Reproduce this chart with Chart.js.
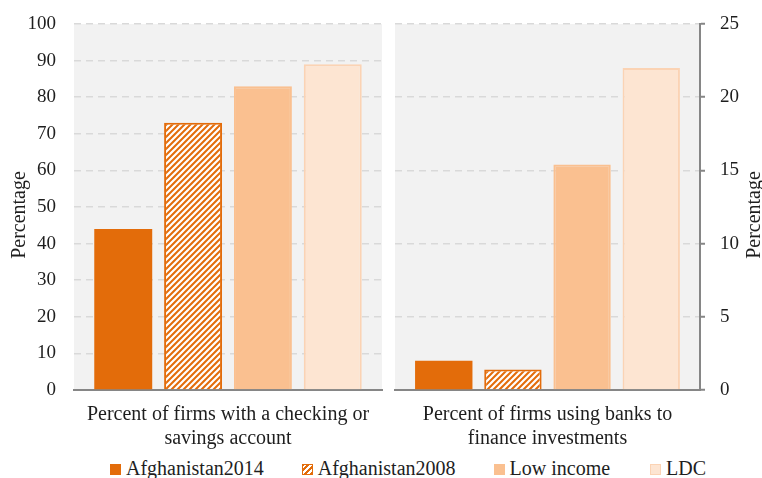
<!DOCTYPE html>
<html>
<head>
<meta charset="utf-8">
<script src="https://cdn.jsdelivr.net/npm/chart.js@4/dist/chart.umd.min.js"></script>
<style>
  html, body { margin: 0; padding: 0; background: #fff; }
  #wrap { position: relative; width: 762px; height: 478px; overflow: hidden; font-family: 'Liberation Serif', 'Times New Roman', serif; }
  #left { position: absolute; left: 0; top: 0; }
  #right { position: absolute; left: 388px; top: 0; }
  #legend { position: absolute; left: 110px; top: 458px; display: flex; white-space: nowrap; font-size: 20px; line-height: 20px; color: #1e1e1e; }
  .item { margin-right: 38px; }
  .item:nth-child(3) { margin-right: 40px; }
  .sw { display: inline-block; width: 11px; height: 11px; margin-right: 5px; vertical-align: baseline; box-sizing: border-box; }
</style>
</head>
<body>
<div id="wrap">
  <canvas id="left" width="388" height="452"></canvas>
  <canvas id="right" width="374" height="452"></canvas>
  <div id="legend"></div>
</div>
<script>
// Panel categories (one per panel) and series
const panelLabels = [
  ['Percent of firms with a checking or', 'savings account'],
  ['Percent of firms using banks to', 'finance investments']
];
const seriesNames = ['Afghanistan2014', 'Afghanistan2008', 'Low income', 'LDC'];
const afghanistan2014 = [44, 2.0];
const afghanistan2008 = [73, 1.4];
const lowIncome = [83, 15.4];
const ldc = [89, 22.0];
const leftAxisMax = 100, leftAxisStep = 10;
const rightAxisMax = 25, rightAxisStep = 5;
const axisTitle = 'Percentage';

const seriesValues = [afghanistan2014, afghanistan2008, lowIncome, ldc];

const ORANGE = '#e36c0a';
const LIGHT = '#fac090';
const PALE = '#fde5d2';
const PALE_EDGE = '#fbd3b4';
const FONT = "'Liberation Serif', 'Times New Roman', serif";
const TEXT = '#1e1e1e';
const AXIS = '#868686';
const GRID = '#d9d9d9';

// Diagonal white-on-orange hatch
function makeHatch() {
  const t = document.createElement('canvas');
  t.width = 6; t.height = 6;
  const c = t.getContext('2d');
  c.fillStyle = ORANGE;
  c.fillRect(0, 0, 6, 6);
  c.strokeStyle = '#ffffff';
  c.lineWidth = 2.2;
  c.beginPath();
  c.moveTo(-3, 3); c.lineTo(3, -3);
  c.moveTo(0, 6); c.lineTo(6, 0);
  c.moveTo(3, 9); c.lineTo(9, 3);
  c.stroke();
  return c.createPattern(t, 'repeat');
}
const hatch = makeHatch();

const fills = [ORANGE, hatch, LIGHT, PALE];
const edges = [ORANGE, ORANGE, LIGHT, PALE_EDGE];

// Gray panel background behind the plot area
const panelBg = {
  id: 'panelBg',
  beforeDraw(chart) {
    const a = chart.chartArea, ctx = chart.ctx;
    ctx.save();
    ctx.fillStyle = '#f2f2f2';
    ctx.fillRect(a.left, a.top, a.right - a.left, a.bottom - a.top);
    ctx.restore();
  }
};

// Vertical axis title, reading bottom to top
function sideTitle(x) {
  return {
    id: 'sideTitle',
    afterDraw(chart) {
      const ctx = chart.ctx;
      ctx.save();
      ctx.translate(x, 215);
      ctx.rotate(-Math.PI / 2);
      ctx.font = '20px ' + FONT;
      ctx.fillStyle = TEXT;
      ctx.textAlign = 'center';
      ctx.textBaseline = 'alphabetic';
      ctx.fillText(axisTitle, 0, 0);
      ctx.restore();
    }
  };
}

function buildDatasets(panel) {
  return seriesNames.map((name, i) => ({
    label: name,
    data: [seriesValues[i][panel]],
    backgroundColor: fills[i],
    borderColor: edges[i],
    borderWidth: i === 0 ? 0 : 2,
    categoryPercentage: 0.907,
    barPercentage: 0.83
  }));
}

function gridColor(ctx) {
  return ctx.tick && ctx.tick.value === 0 ? 'rgba(0,0,0,0)' : GRID;
}

function makeChart(id, panel, isRight) {
  const max = isRight ? rightAxisMax : leftAxisMax;
  const step = isRight ? rightAxisStep : leftAxisStep;
  return new Chart(document.getElementById(id), {
    type: 'bar',
    data: { labels: [panelLabels[panel]], datasets: buildDatasets(panel) },
    options: {
      responsive: false,
      animation: false,
      devicePixelRatio: 1,
      layout: { padding: isRight ? { top: 24, left: 7, right: 0, bottom: 0 } : { top: 24, left: 0, right: 6, bottom: 0 } },
      plugins: { legend: { display: false }, tooltip: { enabled: false } },
      scales: {
        x: {
          grid: { display: false, drawTicks: false },
          border: { display: true, color: AXIS, width: 2 },
          ticks: { color: TEXT, font: { family: FONT, size: 20, lineHeight: 1.2 }, padding: 13, maxRotation: 0, autoSkip: false },
          afterFit(s) { s.height = 62; s.paddingLeft = 0; s.paddingRight = 0; }
        },
        y: {
          position: isRight ? 'right' : 'left',
          min: 0, max: max,
          grid: {
            color: gridColor, lineWidth: 1.5, drawTicks: isRight, tickLength: 5,
            tickColor: AXIS, tickWidth: 2, tickBorderDash: []
          },
          border: { display: isRight, color: AXIS, width: 2, dash: [7, 5] },
          ticks: { stepSize: step, color: TEXT, font: { family: FONT, size: 19 }, padding: isRight ? 15 : 18 },
          afterFit(s) { s.width = isRight ? 62 : 74; s.paddingTop = 0; s.paddingBottom = 0; }
        }
      }
    },
    plugins: [panelBg, sideTitle(isRight ? 372 : 25)]
  });
}

const leftChart = makeChart('left', 0, false);
const rightChart = makeChart('right', 1, true);

// Legend
const legend = document.getElementById('legend');
seriesNames.forEach((name, i) => {
  const item = document.createElement('span');
  item.className = 'item';
  const sw = document.createElement('span');
  sw.className = 'sw';
  if (i === 1) {
    sw.style.background = 'repeating-linear-gradient(-45deg, #e36c0a 0 2px, #ffffff 2px 4px)';
    sw.style.border = '1.5px solid #e36c0a';
  } else {
    sw.style.background = fills[i];
    if (i === 3) sw.style.border = '1px solid ' + PALE_EDGE;
  }
  item.appendChild(sw);
  item.appendChild(document.createTextNode(name));
  legend.appendChild(item);
});
</script>
</body>
</html>
